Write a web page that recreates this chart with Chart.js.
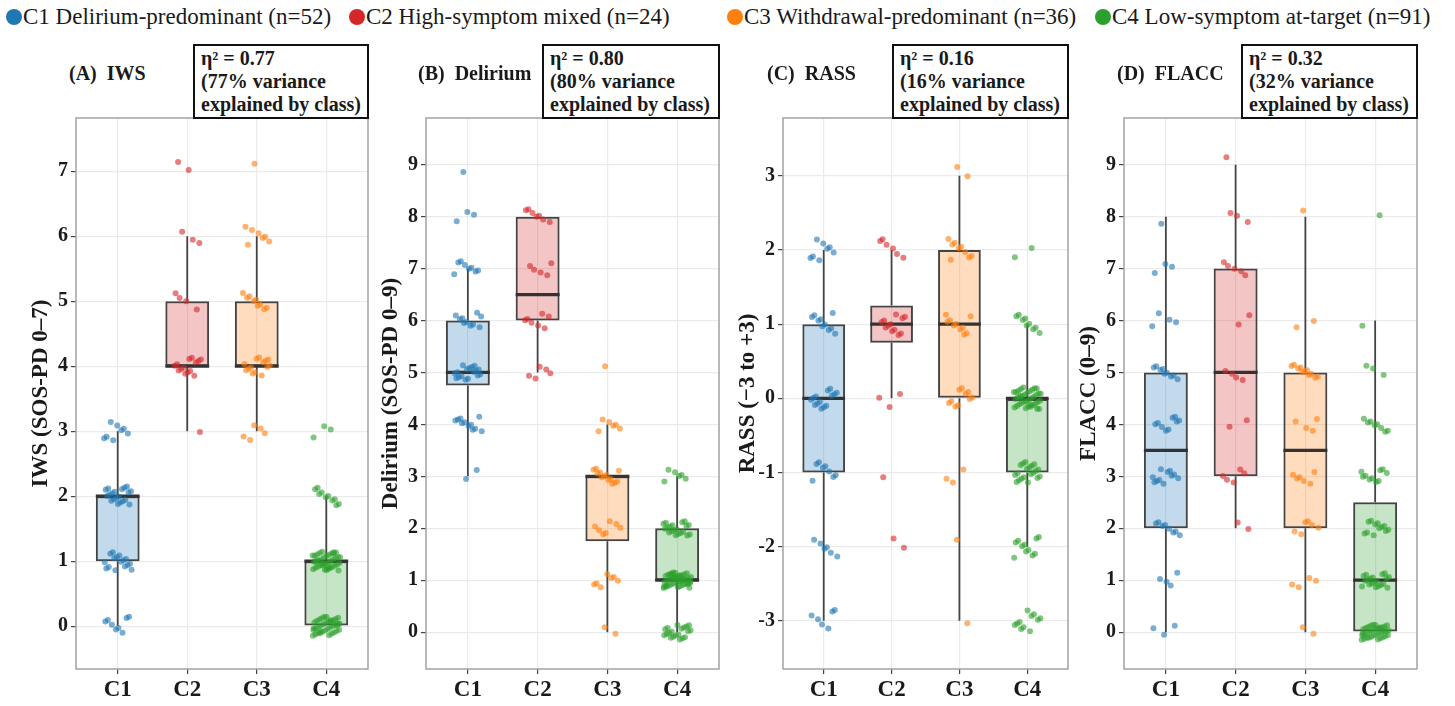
<!DOCTYPE html>
<html>
<head>
<meta charset="utf-8">
<script src="https://cdn.jsdelivr.net/npm/chart.js@4.4.0/dist/chart.umd.min.js"></script>
<style>
  body { margin: 0; background: #fff; }
  #wrap { position: relative; width: 1455px; height: 706px; overflow: hidden;
          font-family: 'Liberation Serif', 'Nimbus Roman', 'Times New Roman', Tinos, 'DejaVu Serif', serif; color: #1a1a1a; }
  canvas { position: absolute; top: 0; }
  .leg { position: absolute; top: 4px; font-size: 23px; line-height: 26px; white-space: nowrap; }
  .dot { position: absolute; top: 9px; width: 16px; height: 16px; border-radius: 50%; }
  .ttl { position: absolute; top: 61px; font-size: 20px; font-weight: bold; line-height: 24px; white-space: pre; }
  .eta { position: absolute; top: 44px; height: 75px; box-sizing: border-box; border: 2px solid #111;
         background: #fff; font-size: 20px; font-weight: bold; line-height: 23px; padding: 1px 0 0 6px; white-space: nowrap; }
</style>
</head>
<body>
<div id="wrap"></div>
<script>
const classes = ['C1', 'C2', 'C3', 'C4'];
const classNames = ['Delirium-predominant', 'High-symptom mixed', 'Withdrawal-predominant', 'Low-symptom at-target'];
const classSizes = [52, 24, 36, 91];
const classColors = ['#1f77b4', '#d62728', '#ff7f0e', '#2ca02c'];

// number of patients at each score, one row per class (C1..C4)
const iwsScores = [0, 1, 2, 3, 4, 5, 6, 7];
const iwsCounts = [
  [8, 16, 20, 8, 0, 0, 0, 0],
  [0, 0, 0, 1, 14, 4, 3, 2],
  [0, 0, 0, 5, 14, 9, 7, 1],
  [38, 40, 10, 3, 0, 0, 0, 0]
];
const delScores = [0, 1, 2, 3, 4, 5, 6, 7, 8, 9];
const delCounts = [
  [0, 0, 0, 2, 11, 17, 10, 8, 3, 1],
  [0, 0, 0, 0, 0, 5, 7, 5, 7, 0],
  [2, 7, 7, 13, 6, 1, 0, 0, 0, 0],
  [20, 45, 20, 6, 0, 0, 0, 0, 0, 0]
];
const rassScores = [-3, -2, -1, 0, 1, 2, 3];
const rassCounts = [
  [6, 6, 8, 14, 10, 8, 0],
  [0, 2, 1, 3, 12, 6, 0],
  [1, 1, 3, 10, 10, 9, 2],
  [11, 11, 20, 38, 9, 2, 0]
];
const flaccScores = [0, 1, 2, 3, 4, 5, 6, 7, 8, 9];
const flaccCounts = [
  [3, 4, 8, 11, 9, 9, 4, 3, 1, 0],
  [0, 0, 2, 5, 2, 4, 2, 5, 3, 1],
  [2, 4, 6, 6, 4, 11, 2, 0, 1, 0],
  [36, 20, 12, 10, 8, 3, 1, 0, 1, 0]
];
const etaValues = ['0.77', '0.80', '0.16', '0.32'];

const panels = [
  { key: 'A', title: '(A)  IWS', yTitle: 'IWS (SOS-PD 0–7)', scores: iwsScores, counts: iwsCounts,
    eta: etaValues[0], yMin: -0.66, yMax: 7.82, left: 76, right: 368, titleX: 69, etaL: 193, etaR: 369 },
  { key: 'B', title: '(B)  Delirium', yTitle: 'Delirium (SOS-PD 0–9)', scores: delScores, counts: delCounts,
    eta: etaValues[1], yMin: -0.71, yMax: 9.9, left: 426, right: 719, titleX: 418, etaL: 542, etaR: 720 },
  { key: 'C', title: '(C)  RASS', yTitle: 'RASS (−3 to +3)', scores: rassScores, counts: rassCounts,
    eta: etaValues[2], yMin: -3.65, yMax: 3.78, left: 783, right: 1068, titleX: 767, etaL: 892, etaR: 1069 },
  { key: 'D', title: '(D)  FLACC', yTitle: 'FLACC (0–9)', scores: flaccScores, counts: flaccCounts,
    eta: etaValues[3], yMin: -0.71, yMax: 9.9, left: 1124, right: 1417, titleX: 1117, etaL: 1241, etaR: 1418 }
];

const wrap = document.getElementById('wrap');
const serif = "'Liberation Serif', 'Nimbus Roman', 'Times New Roman', Tinos, 'DejaVu Serif', serif";

function alpha(hex, a) {
  const n = parseInt(hex.slice(1), 16);
  return `rgba(${n >> 16},${(n >> 8) & 255},${n & 255},${a})`;
}

// legend
const legLeft = [6, 349, 727, 1095];
classes.forEach((c, i) => {
  const d = document.createElement('div');
  d.className = 'dot';
  d.style.left = legLeft[i] + 'px';
  d.style.background = classColors[i];
  wrap.appendChild(d);
  const t = document.createElement('div');
  t.className = 'leg';
  t.style.left = (legLeft[i] + 17) + 'px';
  t.textContent = `${c} ${classNames[i]} (n=${classSizes[i]})`;
  wrap.appendChild(t);
});

function expand(scores, counts) {
  const out = [];
  counts.forEach((n, j) => { for (let k = 0; k < n; k++) out.push(scores[j]); });
  return out;
}
function quantile(s, p) {
  const h = (s.length - 1) * p, lo = Math.floor(h);
  const hi = Math.min(lo + 1, s.length - 1);
  return s[lo] + (h - lo) * (s[hi] - s[lo]);
}
function boxStats(vals) {
  const s = vals.slice().sort((a, b) => a - b);
  const q1 = quantile(s, 0.25), med = quantile(s, 0.5), q3 = quantile(s, 0.75);
  const iqr = q3 - q1;
  const lo = Math.min(...s.filter(v => v >= q1 - 1.5 * iqr));
  const hi = Math.max(...s.filter(v => v <= q3 + 1.5 * iqr));
  return { q1, med, q3, lo, hi };
}
const frac = v => v - Math.floor(v);

const framePlugin = {
  id: 'frame',
  afterDraw(chart) {
    const { ctx, chartArea: a } = chart;
    ctx.save();
    ctx.strokeStyle = '#a3a3a3';
    ctx.lineWidth = 1.5;
    ctx.strokeRect(a.left, a.top, a.right - a.left, a.bottom - a.top);
    ctx.restore();
  }
};

const BOX_W = 0.63;

panels.forEach(p => {
  const t = document.createElement('div');
  t.className = 'ttl';
  t.style.left = p.titleX + 'px';
  t.textContent = p.title;
  wrap.appendChild(t);
  const e = document.createElement('div');
  e.className = 'eta';
  e.style.left = p.etaL + 'px';
  e.style.width = (p.etaR - p.etaL) + 'px';
  e.innerHTML = `η² = ${p.eta}<br>(${Math.round(parseFloat(p.eta) * 100)}% variance<br>explained by class)`;

  const cv = document.createElement('canvas');
  const cw = p.right - p.left + 80;
  cv.width = cw; cv.height = 706;
  cv.style.left = (p.left - 76) + 'px';
  cv.style.width = cw + 'px'; cv.style.height = '706px';
  wrap.appendChild(cv);
  wrap.appendChild(e);

  const points = [], pointColors = [], boxes = [], boxFill = [], whiskers = [], medians = [];
  let k = 0;
  p.counts.forEach((row, ci) => {
    const x = ci + 1;
    const vals = expand(p.scores, row);
    // fixed display jitter (low-discrepancy offsets), values stay the integer scores
    vals.forEach(v => {
      k++;
      points.push({ x: x + (frac(k * 0.6180339887 + 0.2) - 0.5) * 0.4,
                    y: v + (frac(k * 0.4142135624 + 0.5) - 0.5) * 0.3 });
      pointColors.push(alpha(classColors[ci], 0.6));
    });
    const b = boxStats(vals);
    boxes.push({ x, y: [b.q1, b.q3] });
    boxFill.push(alpha(classColors[ci], 0.27));
    whiskers.push({ x, y: b.lo }, { x, y: b.q1 }, { x, y: null }, { x, y: b.q3 }, { x, y: b.hi }, { x, y: null });
    medians.push({ x: x - BOX_W / 2, y: b.med }, { x: x + BOX_W / 2, y: b.med }, { x, y: null });
  });

  const yTicks = [];
  for (let v = Math.ceil(p.yMin); v <= Math.floor(p.yMax); v++) yTicks.push(v);

  new Chart(cv, {
    type: 'bar',
    data: {
      datasets: [
        { type: 'scatter', data: points, backgroundColor: pointColors, borderWidth: 0,
          pointRadius: 3, order: 0 },
        { type: 'line', data: medians, borderColor: '#333', borderWidth: 3.2, pointRadius: 0,
          spanGaps: false, order: 1 },
        { type: 'line', data: whiskers, borderColor: '#444', borderWidth: 1.8, pointRadius: 0,
          spanGaps: false, order: 2 },
        { type: 'bar', data: boxes, backgroundColor: boxFill, borderColor: '#444', borderWidth: 2,
          borderSkipped: false, barPercentage: BOX_W, categoryPercentage: 1, order: 3 }
      ]
    },
    options: {
      responsive: false,
      animation: false,
      events: [],
      layout: { padding: { top: 118, left: 0, right: 4, bottom: 0 } },
      plugins: { legend: { display: false }, tooltip: { enabled: false } },
      scales: {
        x: {
          type: 'linear', min: 0.4, max: 4.6, bounds: 'data', offset: false,
          afterBuildTicks: s => { s.ticks = [1, 2, 3, 4].map(v => ({ value: v })); },
          afterFit: s => { s.height = 37; },
          border: { display: false },
          grid: { offset: false, color: '#ebebeb', lineWidth: 1.2, tickColor: '#444', tickLength: 5 },
          ticks: { callback: v => classes[v - 1], autoSkip: false, maxRotation: 0, padding: 2,
                   color: '#1a1a1a', font: { family: serif, size: 23, weight: 'bold' } }
        },
        y: {
          type: 'linear', min: p.yMin, max: p.yMax, bounds: 'data',
          afterBuildTicks: s => { s.ticks = yTicks.map(v => ({ value: v })); },
          afterFit: s => { s.width = 76; },
          border: { display: false },
          grid: { color: '#ebebeb', lineWidth: 1.2, tickColor: '#444', tickLength: 5 },
          ticks: { padding: 3, color: '#1a1a1a', font: { family: serif, size: 20, weight: 'bold' } },
          title: { display: true, text: p.yTitle, color: '#1a1a1a', padding: { top: 27 },
                   font: { family: serif, size: 23, weight: 'bold' } }
        }
      }
    },
    plugins: [framePlugin]
  });
});
</script>
</body>
</html>
